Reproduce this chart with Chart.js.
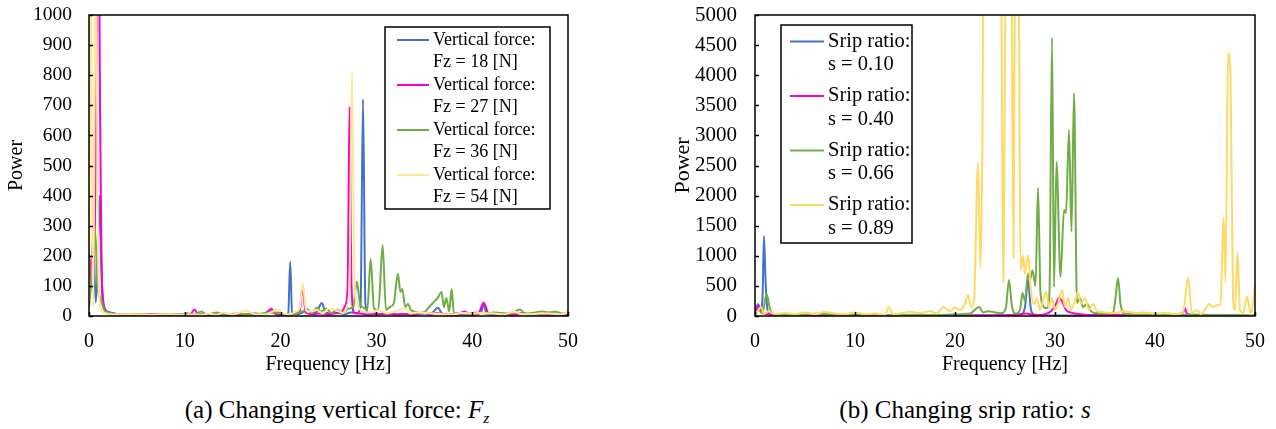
<!DOCTYPE html>
<html><head><meta charset="utf-8">
<script src="https://cdn.jsdelivr.net/npm/chart.js@4.4.1/dist/chart.umd.min.js"></script>
<style>
html,body{margin:0;padding:0;background:#fff;width:1276px;height:429px;overflow:hidden;}
.wrap{position:absolute;top:0;height:380px;}
.cap{position:absolute;font-family:"Liberation Serif","Times New Roman",serif;font-size:25px;line-height:25px;color:#000;white-space:nowrap;transform:translateX(-50%);}
.cap sub{font-size:0.62em;vertical-align:-0.3em;line-height:0;}
</style></head><body>
<div class="wrap" style="left:0;width:610px"><canvas id="c1"></canvas></div>
<div class="wrap" style="left:666px;width:610px"><canvas id="c2"></canvas></div>
<div class="cap" style="left:337px;top:397px">(a) Changing vertical force: <i>F<sub>z</sub></i></div>
<div class="cap" style="left:965px;top:397px">(b) Changing srip ratio: <i>s</i></div>
<script>
// ---------- Data: (a) vertical force ----------
const fzLabels = ["Vertical force:\nFz = 18 [N]", "Vertical force:\nFz = 27 [N]", "Vertical force:\nFz = 36 [N]", "Vertical force:\nFz = 54 [N]"];
const fz18Freq = [0,0.25,0.45,0.7,0.85,1.08,1.3,1.6,2.2,3,4.5,6,7.5,9,10.5,12,13.5,15,16.5,18,18.9,19.6,20.4,20.8,21.0,21.2,21.6,22.2,22.8,23.3,23.8,24.3,24.7,25.3,26,26.7,27.3,28.0,28.35,28.6,28.85,29.2,29.8,30.5,31.3,32.2,33,34,35,35.8,36.4,36.9,37.8,38.8,39.6,40.4,40.9,41.2,41.5,42.3,43.2,44.2,45,46,47,48,49,50];
const fz18Power = [80,180,260,45,120,400,150,30,12,6,4,3,5,4,3,5,4,3,6,4,18,6,4,10,180,12,6,10,22,8,15,43,12,8,10,6,12,10,40,720,40,10,8,6,10,5,7,5,8,10,27,8,5,6,4,8,10,40,8,5,6,4,10,5,6,4,5,4];
const fz27Freq = [0,0.3,0.5,0.75,0.95,1.15,1.4,1.8,2.5,3.5,5,6.5,8,9.5,10.6,11.0,11.4,12.5,14,15.5,17.3,18.5,19.0,19.5,20.5,21.5,22.0,22.3,22.6,23.2,24,25,25.8,26.4,26.75,27.0,27.2,27.4,27.7,28.3,29,30,31,32,33,34,34.8,35.5,36.3,37.2,38.3,39.2,39.8,40.6,41.2,41.7,42.6,43.5,44.5,45.2,46,47,48,49,50];
const fz27Power = [90,200,160,700,1600,700,60,15,8,5,4,6,3,5,6,22,5,4,8,4,8,5,25,6,4,8,15,100,12,6,8,5,10,15,35,100,695,100,10,8,5,6,8,5,6,4,12,5,10,5,4,15,5,6,45,8,5,6,4,10,5,6,4,5,3];
const fz36Freq = [0,0.35,0.65,0.9,1.2,1.6,2.2,3,4,5,6,7,8,9,10.3,11,11.7,12.3,13.4,14,15.5,17,18.5,19.7,20.5,21.3,22.0,22.8,23.3,23.8,24.2,24.8,25.3,25.9,26.5,27.1,27.6,27.95,28.3,28.8,29.05,29.4,29.75,30.2,30.65,31.0,31.4,31.8,32.25,32.5,32.7,33.0,33.3,33.6,34,34.5,35,35.5,35.9,36.4,36.8,37.05,37.3,37.6,37.85,38.1,38.5,39.5,40.5,41.5,42.2,43,44,45.0,45.5,46.3,47.3,48,48.7,49.5,50];
const fz36Power = [30,150,280,100,60,20,10,5,4,6,4,5,6,4,8,5,15,5,12,5,8,5,10,12,5,6,12,20,10,28,15,25,10,22,10,25,30,115,40,25,20,190,25,20,236,20,30,40,140,80,90,30,40,20,15,10,12,30,43,60,80,30,60,15,90,8,10,8,12,8,12,10,8,22,8,10,15,12,14,8,8];
const fz54Freq = [0,0.15,0.3,0.45,0.7,0.95,1.2,1.6,2.5,3.5,5,6.5,8,9.5,11,11.7,12.5,13.3,14,15,16.3,17.5,18.5,19.7,20.3,21.0,21.6,22.0,22.3,22.65,23.2,23.8,24.4,25,25.8,26.5,27.0,27.2,27.45,27.7,28.0,28.5,29.5,30.2,31,32,33.0,33.5,34.2,35.2,36,37,38,38.8,40,41,42.3,43.3,44.3,45.3,46,47,48,49.3,49.8,50];
const fz54Power = [50,1300,400,30,1300,200,30,10,5,6,5,4,6,4,5,3,8,4,12,5,18,5,6,22,8,6,15,25,110,20,15,20,8,25,20,10,40,120,810,120,40,15,12,20,10,15,25,8,12,10,8,6,5,10,8,10,8,5,14,6,6,8,8,6,10,20];

// ---------- Data: (b) slip ratio ----------
const sLabels = ["Srip ratio:\ns = 0.10", "Srip ratio:\ns = 0.40", "Srip ratio:\ns = 0.66", "Srip ratio:\ns = 0.89"];
const s010Freq = [0,0.3,0.55,0.75,0.9,1.05,1.3,1.8,3,5,8,12,16,20,22,24,25.5,26.5,27.0,27.3,27.6,28,29,31,34,38,42,46,50];
const s010Power = [50,200,80,300,1330,600,60,15,8,5,6,5,6,8,10,8,10,20,150,600,100,20,10,8,6,5,6,5,5];
const s040Freq = [0,0.35,0.7,1.2,2,5,10,15,20,24,26,27.1,28,29,29.6,30.1,30.4,30.7,31.1,31.5,32,33,35,38,40,42,42.8,43.0,43.2,44,46,48,50];
const s040Power = [40,170,60,30,10,8,6,8,10,12,20,40,15,30,80,200,300,250,100,60,40,20,15,20,15,25,60,130,40,15,10,8,5];
const s066Freq = [0,0.4,0.75,1.15,1.5,1.9,2.5,4,6.5,8,10,13,16,18,20,21.5,22.4,22.8,23.3,24,24.7,25.1,25.4,25.7,26.1,26.5,26.75,27.0,27.3,27.5,27.75,28.05,28.3,28.55,28.9,29.2,29.45,29.7,29.9,30.15,30.55,30.9,31.1,31.4,31.65,31.9,32.2,32.5,32.8,33.2,33.6,34,35,35.8,36.05,36.3,36.55,36.9,38,40,42,44,46,48,50];
const s066Power = [30,100,40,370,120,30,20,15,40,15,20,15,20,15,30,40,150,60,80,60,50,150,600,150,40,100,380,250,700,600,760,500,2130,380,150,130,400,4620,480,2560,650,1760,1710,3090,1400,3700,215,300,150,200,80,50,40,50,300,630,200,40,30,25,20,25,15,15,10];
const s089Freq = [0,0.3,0.6,0.9,1.4,2,3,4,5,6,7,8,9,10,11,12,13.0,13.4,13.8,14.5,15.5,16.5,17.5,18.2,18.8,19.5,20,20.5,21.0,21.3,21.6,21.9,22.3,22.55,22.75,22.95,23.8,24.6,24.85,25.05,25.4,25.7,25.85,26.0,26.2,26.4,26.55,26.8,27.0,27.3,27.6,27.9,28.2,28.5,28.8,29.1,29.4,29.7,30.0,30.3,30.7,31.0,31.3,31.6,32.0,32.3,32.6,33.0,33.4,33.8,34.2,35,36,37,38,39,40,41,42,42.8,43.3,43.7,44.2,44.6,45.0,45.4,45.8,46.2,46.55,46.85,47.05,47.3,47.55,47.8,48.0,48.25,48.5,48.8,49.2,49.6,50];
const s089Power = [20,80,150,40,80,30,50,30,60,30,70,40,30,60,30,40,20,150,30,40,70,50,80,40,150,80,140,100,200,350,150,250,2550,800,3000,9000,12000,6000,560,6000,12000,5000,960,6000,8000,5000,760,1000,700,1010,400,200,300,100,250,400,150,300,100,200,430,150,300,100,250,400,200,300,100,200,80,60,50,80,50,60,40,50,30,60,630,50,100,30,100,200,150,180,200,1640,560,4370,4000,300,100,1060,100,50,320,30,510];

// ---------- Axis ticks ----------
const freqMin = 0, freqMax = 50, freqStep = 10;
const fzPowerMax = 1000, fzPowerStep = 100;
const sPowerMax = 5000, sPowerStep = 500;

const SERIF = '"Liberation Serif","Times New Roman",serif';
Chart.defaults.font.family = SERIF;
Chart.defaults.color = '#000';

function pts(f, p) { return f.map((x, i) => ({ x: x, y: p[i] })); }
function ds(label, f, p, color, order) {
  return { label: label, data: pts(f, p), borderColor: color, backgroundColor: color,
    borderWidth: 2, pointRadius: 0, cubicInterpolationMode: 'monotone', order: order, fill: false };
}

const framePlugin = {
  id: 'frame',
  afterDatasetsDraw(chart) {
    const { ctx, chartArea: a, scales } = chart;
    const x = scales.x, y = scales.y;
    ctx.save();
    ctx.strokeStyle = '#000';
    ctx.lineWidth = 1.5;
    ctx.strokeRect(a.left, a.top, a.right - a.left, a.bottom - a.top);
    ctx.beginPath();
    y.ticks.forEach(t => { const py = Math.round(y.getPixelForValue(t.value)) + 0.5; ctx.moveTo(a.left, py); ctx.lineTo(a.left + 4, py); });
    x.ticks.forEach(t => { const px = Math.round(x.getPixelForValue(t.value)) + 0.5; ctx.moveTo(px, a.bottom); ctx.lineTo(px, a.bottom - 4); });
    ctx.stroke();
    ctx.restore();
  }
};

const boxLegend = {
  id: 'boxLegend',
  afterDraw(chart, args, o) {
    const ctx = chart.ctx;
    ctx.save();
    ctx.fillStyle = '#fff';
    ctx.fillRect(o.x, o.y, o.w, o.h);
    ctx.strokeStyle = '#000';
    ctx.lineWidth = 1.5;
    ctx.strokeRect(o.x, o.y, o.w, o.h);
    ctx.font = o.size + 'px ' + SERIF;
    ctx.textBaseline = 'middle';
    ctx.textAlign = 'left';
    chart.data.datasets.forEach((d, i) => {
      const y0 = o.firstY + i * o.entryGap;
      ctx.strokeStyle = d.borderColor;
      ctx.lineWidth = 2;
      ctx.beginPath(); ctx.moveTo(o.lineX1, y0); ctx.lineTo(o.lineX2, y0); ctx.stroke();
      ctx.fillStyle = '#000';
      d.label.split('\n').forEach((t, j) => ctx.fillText(t, o.textX, y0 + j * o.lineGap));
    });
    ctx.restore();
  }
};

function makeChart(id, datasets, yMax, yStep, f, legend, padRight) {
  return new Chart(document.getElementById(id), {
    type: 'line',
    data: { datasets: datasets },
    plugins: [framePlugin, boxLegend],
    options: {
      responsive: true, maintainAspectRatio: false, animation: false, events: [],
      layout: { padding: { left: 0, top: 15, right: padRight, bottom: 0 } },
      plugins: { legend: { display: false }, tooltip: { enabled: false }, boxLegend: legend },
      scales: {
        x: {
          type: 'linear', min: freqMin, max: freqMax,
          ticks: { stepSize: freqStep, padding: 14, font: { size: f.xt }, maxRotation: 0, callback: v => String(v) },
          grid: { display: false, drawTicks: false, tickLength: 0 },
          border: { display: false },
          title: { display: true, text: 'Frequency [Hz]', font: { size: f.xtitle }, padding: { top: 0, bottom: 3 } },
          afterFit: s => { s.height = 64; s.paddingLeft = 0; s.paddingRight = 0; }
        },
        y: {
          type: 'linear', min: 0, max: yMax,
          ticks: { stepSize: yStep, padding: f.ypad, font: { size: f.yt }, callback: v => String(v) },
          grid: { display: false, drawTicks: false, tickLength: 0 },
          border: { display: false },
          title: { display: true, text: 'Power', font: { size: f.ytitle }, padding: { top: f.ytpad, bottom: 0 } },
          afterFit: s => { s.width = 89; s.paddingTop = 0; s.paddingBottom = 0; }
        }
      }
    }
  });
}

makeChart('c1', [
  ds(fzLabels[0], fz18Freq, fz18Power, '#4472C4', 4),
  ds(fzLabels[1], fz27Freq, fz27Power, '#FF00CC', 3),
  ds(fzLabels[2], fz36Freq, fz36Power, '#70AD47', 2),
  ds(fzLabels[3], fz54Freq, fz54Power, '#FFE699', 1)
], fzPowerMax, fzPowerStep,
  { xt: 20, xtitle: 20, yt: 19.5, ypad: 17, ytitle: 20, ytpad: 5 },
  { x: 385, y: 27, w: 165, h: 182, lineX1: 397, lineX2: 429, textX: 433, firstY: 40, lineGap: 22.5, entryGap: 45, size: 18 },
  42);

makeChart('c2', [
  ds(sLabels[0], s010Freq, s010Power, '#4472C4', 4),
  ds(sLabels[1], s040Freq, s040Power, '#FF00CC', 3),
  ds(sLabels[2], s066Freq, s066Power, '#70AD47', 2),
  ds(sLabels[3], s089Freq, s089Power, '#FFD966', 1)
], sPowerMax, sPowerStep,
  { xt: 20, xtitle: 20, yt: 21, ypad: 18, ytitle: 22, ytpad: 4 },
  { x: 115, y: 25, w: 131, h: 218, lineX1: 124, lineX2: 158, textX: 162, firstY: 41.5, lineGap: 23.5, entryGap: 54.5, size: 20.5 },
  21);
</script>
</body></html>
